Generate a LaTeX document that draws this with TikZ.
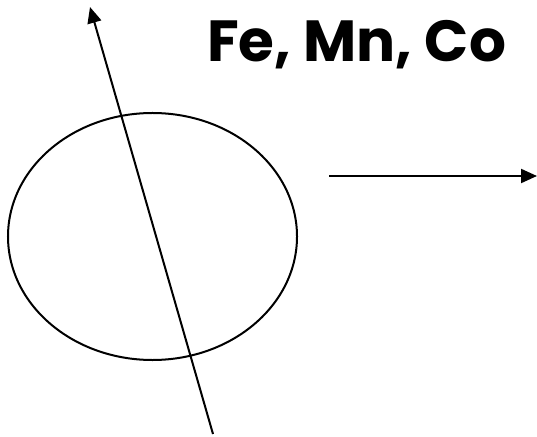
\documentclass[tikz,border=0pt]{standalone}
\usepackage{fontspec}
\setmainfont{Poppins}
\usetikzlibrary{arrows.meta,shapes.geometric}
\begin{document}
\begin{tikzpicture}[x=1bp,y=-1bp,
  line/.style={line width=2bp,draw=black},
  arr/.style={line, -{Triangle[length=16bp,width=14bp]}}]
\useasboundingbox (0,0) rectangle (537,437);
\node[line, ellipse, minimum width=289bp, minimum height=247bp, inner sep=0pt] (ell) at (152.5,236.5) {};
\coordinate (a1) at (213,434);
\coordinate (a2) at (90,7);
\draw[arr] (a1) -- (a2);
\coordinate (b1) at (329,176);
\coordinate (b2) at (537,176);
\draw[arr] (b1) -- (b2);
\node[anchor=base west, inner sep=0pt, font=\fontsize{58bp}{60bp}\selectfont\bfseries] (lbl) at (207,62) {Fe, Mn, Co};
\end{tikzpicture}
\end{document}
